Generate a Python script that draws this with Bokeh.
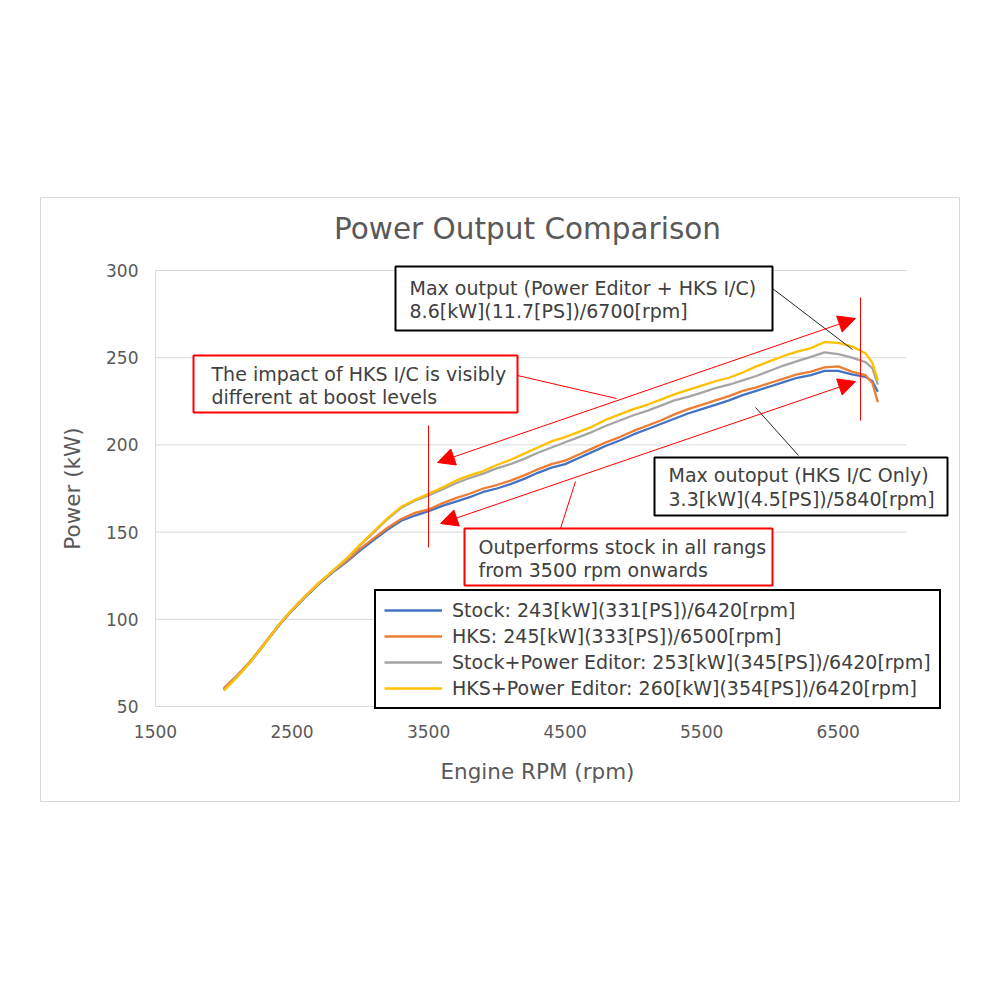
from bokeh.plotting import figure
from bokeh.models import (Range1d, Label, BoxAnnotation, Arrow, NormalHead,
                          Legend, LegendItem)
from bokeh.core.properties import value
from bokeh.embed import file_html
from bokeh.resources import INLINE
import math

# ---------------- data ----------------
rpm = [2000, 2100, 2200, 2300, 2400, 2500, 2600, 2700, 2800, 2900,
       3000, 3100, 3200, 3300, 3400, 3500, 3600, 3700, 3800, 3900,
       4000, 4100, 4200, 4300, 4400, 4500, 4600, 4700, 4800, 4900,
       5000, 5100, 5200, 5300, 5400, 5500, 5600, 5700, 5800, 5900,
       6000, 6100, 6200, 6300, 6400, 6500, 6600, 6700, 6750, 6790]

stock = [60, 67.5, 76, 86, 96, 105, 113, 120.5, 127, 133,
         139.5, 145.5, 151.5, 156.5, 159.5, 162, 165, 167.5, 170, 173,
         175, 177.5, 180.5, 184, 187, 189, 192.5, 196, 199.5, 202.5,
         206, 209, 212, 215, 218, 220.5, 223, 225.5, 228.5, 231,
         233.5, 236, 238.5, 240, 242.5, 242.5, 240.5, 239, 236.5, 230.5]

hks = [60.5, 68, 76.5, 86.5, 96.5, 105.5, 113.5, 121, 127.5, 133.5,
       140.5, 146.5, 152.5, 157.5, 161, 163, 166.5, 169.5, 172, 175,
       177, 179.5, 182.5, 186, 189, 191, 194.5, 198, 201.5, 204.5,
       208, 211, 214, 217.5, 220.5, 223, 225.5, 228, 231, 233,
       235.5, 238, 240.5, 242, 244.5, 245, 242, 240, 235.5, 224.5]

stock_pe = [59.5, 67.5, 76, 86, 96.5, 105.5, 113.5, 121, 127.5, 134.5,
            142.5, 150, 157.5, 164, 168, 171, 174.5, 178, 181, 183.5,
            186.5, 189, 192, 195.5, 198.5, 201.5, 204.5, 207.5, 211, 214,
            217, 219.5, 222.5, 225.5, 227.5, 230, 232.5, 234.5, 237, 239.5,
            242.5, 245.5, 248, 250.5, 253, 252, 250, 247.5, 244, 234.5]

hks_pe = [59, 67, 76, 86, 96.5, 105.5, 113.5, 121, 128, 135,
          143, 150.5, 158, 164.5, 168.5, 172, 175.5, 179.5, 182.5, 185,
          188.5, 191.5, 195, 198.5, 202, 204.5, 207.5, 210.5, 214.5, 217.5,
          220.5, 223, 226, 229, 231.5, 234, 236.5, 238.5, 241.5, 245,
          248, 251, 253.5, 255.5, 259, 258.5, 256.5, 252.5, 247, 237]

series_labels = ["Stock: 243[kW](331[PS])/6420[rpm]",
                 "HKS: 245[kW](333[PS])/6500[rpm]",
                 "Stock+Power Editor: 253[kW](345[PS])/6420[rpm]",
                 "HKS+Power Editor: 260[kW](354[PS])/6420[rpm]"]
series_colors = ["#4472C4", "#ED7D31", "#A5A5A5", "#FFC000"]

x_ticks = [1500, 2500, 3500, 4500, 5500, 6500]
y_ticks = [50, 100, 150, 200, 250, 300]
x_min, x_max = 1500, 7000
y_min, y_max = 50, 300

title_text = "Power Output Comparison"
x_title = "Engine RPM (rpm)"
y_title = "Power (kW)"

# ---------------- layout constants ----------------
FONT = "DejaVu Sans"
TXT = "#595959"
DARK = "#404040"
RED = "#FF0000"
GRID = "#d9d9d9"

# chart area (the frame) on the canvas and plot area inside it
CL, CT, CR, CB = 40, 197, 959, 801
PL, PT, PR, PB = 155, 270, 906, 706
XS = (PR - PL) / (x_max - x_min)
YS = (PB - PT) / (y_max - y_min)

def ax(px):
    return x_min + (px - PL) / XS
def ay(py):
    return y_max - (py - PT) / YS

p = figure(frame_width=CR - CL, frame_height=CB - CT,
           min_border_left=CL, min_border_right=992 - CR,
           min_border_top=CT, min_border_bottom=992 - CB,
           x_range=Range1d(ax(CL), ax(CR)), y_range=Range1d(ay(CB), ay(CT)),
           x_axis_type=None, y_axis_type=None,
           output_backend="svg", toolbar_location=None,
           background_fill_color="white", border_fill_color="white")
p.outline_line_color = GRID
p.outline_line_width = 1
p.grid.visible = False

# grid lines and value axis line (data space)
p.segment([x_min] * len(y_ticks), y_ticks, [x_max] * len(y_ticks), y_ticks,
          line_color=GRID, line_width=1)
p.segment([x_min], [y_min], [x_min], [y_max], line_color=GRID, line_width=1)

# tick labels
p.text(x=x_ticks, y=[ay(731)] * len(x_ticks), text=[str(t) for t in x_ticks],
       text_align="center", text_baseline="middle", text_font=value(FONT),
       text_font_size="17px", text_color=TXT)
p.text(x=[ax(138)] * len(y_ticks), y=y_ticks, text=[str(t) for t in y_ticks],
       text_align="right", text_baseline="middle", text_font=value(FONT),
       text_font_size="17px", text_color=TXT)

# axis titles and chart title
p.add_layout(Label(x=ax(537), y=ay(771), text=x_title, text_align="center",
                   text_baseline="middle", text_font=FONT, text_font_size="21.5px",
                   text_color=TXT))
p.add_layout(Label(x=ax(72), y=ay(488), text=y_title, text_align="center",
                   text_baseline="middle", text_font=FONT, text_font_size="21.5px",
                   text_color=TXT, angle=math.pi / 2))
p.add_layout(Label(x=ax(527), y=ay(228), text=title_text, text_align="center",
                   text_baseline="middle", text_font=FONT, text_font_size="29.5px",
                   text_color=TXT))

# curves
renderers = []
for ys, c in zip([stock, hks, stock_pe, hks_pe], series_colors):
    r = p.line(rpm, ys, line_color=c, line_width=2.3)
    renderers.append(r)

# red arrows / lines
def arrow(x1, y1, x2, y2):
    p.add_layout(Arrow(x_start=ax(x1), y_start=ay(y1), x_end=ax(x2), y_end=ay(y2),
                       line_color=RED, line_width=1,
                       start=NormalHead(size=17, fill_color=RED, line_color=RED),
                       end=NormalHead(size=17, fill_color=RED, line_color=RED)))

arrow(437, 462, 855, 318)
arrow(440, 523, 855, 381)

seg_x0 = [ax(517), ax(560), ax(428), ax(860)]
seg_y0 = [ay(375), ay(528), ay(425), ay(297)]
seg_x1 = [ax(616), ax(575), ax(428), ax(860)]
seg_y1 = [ay(398), ay(481), ay(547), ay(420)]
p.segment(seg_x0, seg_y0, seg_x1, seg_y1, line_color=RED, line_width=1)

bx0 = [ax(772), ax(755)]
by0 = [ay(288), ay(407)]
bx1 = [ax(852), ax(798)]
by1 = [ay(349), ay(455)]
p.segment(bx0, by0, bx1, by1, line_color="#262626", line_width=1)

# annotation boxes
def box(l, t, r, b, color, lines, tx, lys):
    p.add_layout(BoxAnnotation(left=ax(l), right=ax(r), top=ay(t), bottom=ay(b),
                               fill_color="white", fill_alpha=1,
                               line_color=color, line_alpha=1, line_width=2))
    for s, ly in zip(lines, lys):
        p.add_layout(Label(x=ax(tx), y=ay(ly), text=s, text_align="left",
                           text_baseline="middle", text_font=FONT,
                           text_font_size="19px", text_color=DARK))

box(395, 266, 772, 330, "#000000",
    ["Max output (Power Editor + HKS I/C)", "8.6[kW](11.7[PS])/6700[rpm]"],
    409, [287, 310])
box(193, 355, 517, 412, RED,
    ["The impact of HKS I/C is visibly", "different at boost levels"],
    211, [373, 396])
box(654, 457, 947, 515, "#000000",
    ["Max outoput (HKS I/C Only)", "3.3[kW](4.5[PS])/5840[rpm]"],
    668, [474, 498])
box(464, 528, 772, 585, RED,
    ["Outperforms stock in all rangs", "from 3500 rpm onwards"],
    478, [546, 569])

# legend (location = bottom-left corner relative to the frame)
legend = Legend(items=[LegendItem(label=l, renderers=[r]) for l, r in zip(series_labels, renderers)],
                location=(374 - CL, CB - 709),
                border_line_color="#000000", border_line_width=2, border_line_alpha=1,
                background_fill_color="white", background_fill_alpha=1,
                label_text_font=FONT, label_text_font_size="19px",
                label_text_color=DARK, padding=8, spacing=4, margin=0,
                glyph_width=58, glyph_height=20, label_height=20, label_standoff=10)
p.add_layout(legend)

open("out.html", "w").write(file_html(p, INLINE))
